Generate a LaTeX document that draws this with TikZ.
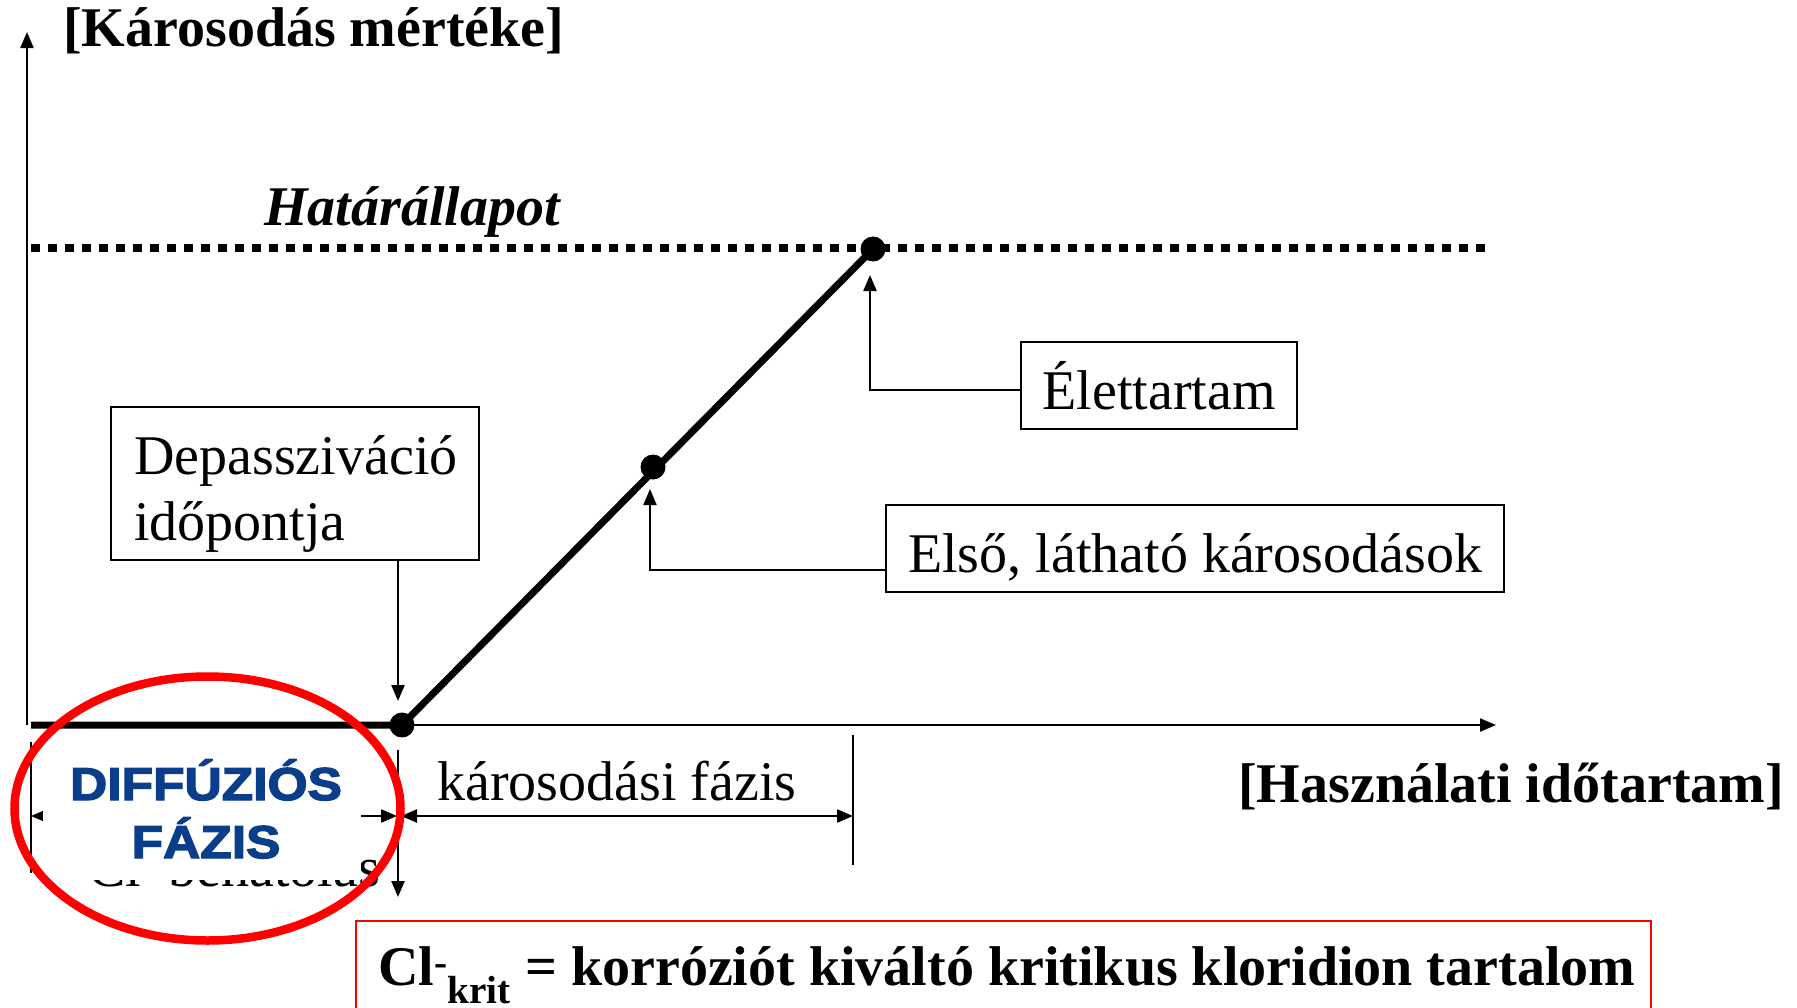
\documentclass[tikz,border=0pt]{standalone}
\usepackage{fontspec}
\setmainfont{Liberation Serif}
\newfontfamily\diffont[FakeStretch=1.12,BoldFeatures={FakeBold=3}]{Liberation Sans}
\usetikzlibrary{arrows.meta}
\definecolor{diffblue}{RGB}{10,62,138}
\definecolor{redline}{RGB}{255,0,0}
\tikzset{
  thinln/.style={line width=2.2pt},
  arr/.style={thinln,-{Triangle[length=16pt,width=13pt]}},
  darr/.style={thinln,{Triangle[length=16pt,width=13pt]}-{Triangle[length=16pt,width=13pt]}},
  boxnode/.style={draw,line width=2pt,inner sep=0pt},
  txt/.style={inner sep=0pt,font=\fontsize{56}{67}\selectfont},
  btxt/.style={inner sep=0pt,font=\fontsize{56}{67}\selectfont\bfseries},
  dot/.style={circle,fill=black,inner sep=0pt,minimum size=25pt},
  difftxt/.style={inner sep=0pt,anchor=base,text=diffblue,font=\diffont\bfseries\fontsize{46}{58}\selectfont},
  curve/.style={line width=7pt}
}
\begin{document}
\begin{tikzpicture}[x=1pt,y=-1pt]
\useasboundingbox (0,0) rectangle (1797,1007);
% coordinates
\coordinate (o) at (27,725);
\coordinate (ytip) at (27,32);
\coordinate (hstart) at (31,725);
\coordinate (xtip) at (1496,725);
\coordinate (dl) at (31,248);
\coordinate (dr) at (1486,248);
\coordinate (lifetip) at (870,275);
\coordinate (vistip) at (650,489);
\coordinate (deptip) at (398,701);
\coordinate (t1a) at (31,742); \coordinate (t1b) at (31,873);
\coordinate (t2a) at (398,750); \coordinate (t2b) at (398,897);
\coordinate (t3a) at (853,735); \coordinate (t3b) at (853,865);
\coordinate (a1l) at (31,816); \coordinate (a1r) at (397,816);
\coordinate (a2l) at (401,816); \coordinate (a2r) at (853,816);
% dotted limit line
\draw[line width=8pt,dash pattern=on 9pt off 8pt] (dl) -- (dr);
% axes
\draw[arr] (o) -- (ytip);
\node[dot] (d1) at (402,725) {};
\node[dot] (d2) at (653,467) {};
\node[dot] (d3) at (873,249) {};
\draw[arr] (d1.center) -- (xtip);
\draw[curve] (hstart) -- (d1.center) -- (d3.center);
% labels
\node[btxt,anchor=base west] (ylab) at (63,46) {[Károsodás mértéke]};
\node[inner sep=0pt,anchor=base west,font=\fontsize{56}{67}\selectfont\bfseries\itshape] (hat) at (264,225) {Határállapot};
% boxes
\node[boxnode,minimum width=368pt,minimum height=153pt] (depbox) at (295,483.5) {};
\node[txt,anchor=base west] (deptxt1) at (134,474) {Depassziváció};
\node[txt,anchor=base west] (deptxt2) at (134,540) {időpontja};
\node[boxnode,minimum width=276pt,minimum height=87pt] (lifebox) at (1159,385.5) {};
\node[txt,anchor=base] (lifetxt) at (1159,409) {Élettartam};
\node[boxnode,minimum width=618pt,minimum height=87pt] (visbox) at (1195,548.5) {};
\node[txt,anchor=base] (vistxt) at (1195,572) {Első, látható károsodások};
% connectors
\draw[arr] ([yshift=-4.5pt]lifebox.west) -| (lifetip);
\draw[arr] ([yshift=-21.5pt]visbox.west) -| (vistip);
\draw[arr] (depbox.south -| deptip) -- (deptip);
% phases
\draw[thinln] (t1a) -- (t1b);
\draw[arr] (t2a) -- (t2b);
\draw[thinln] (t3a) -- (t3b);
\draw[darr] (a1l) -- (a1r);
\draw[darr] (a2l) -- (a2r);
\node[txt,anchor=base west] (kf) at (437,800) {károsodási fázis};
\node[btxt,anchor=base west] (xlab) at (1238,802) {[Használati időtartam]};
% hidden text and mask
\node[txt,anchor=base west] (hid) at (88,886) {Cl\textsuperscript{-} behatolás};
\node[fill=white,inner sep=0pt,minimum width=318pt,minimum height=135pt] (mask) at (202,812.5) {};
\node[difftxt] (diff1) at (206,800) {DIFFÚZIÓS};
\node[difftxt] (diff2) at (206,858) {FÁZIS};
\draw[redline,line width=8.5pt] (207.5,808.5) ellipse [x radius=193, y radius=132];
% definition box
\node[draw=redline,line width=2pt,inner sep=0pt,anchor=north west,minimum width=1295pt,minimum height=140pt] (clbox) at (355,920) {};
\node[btxt,anchor=base west] (cltxt) at (378,985) {Cl\textsuperscript{-}\textsubscript{krit} = korróziót kiváltó kritikus kloridion tartalom};
\end{tikzpicture}
\end{document}
